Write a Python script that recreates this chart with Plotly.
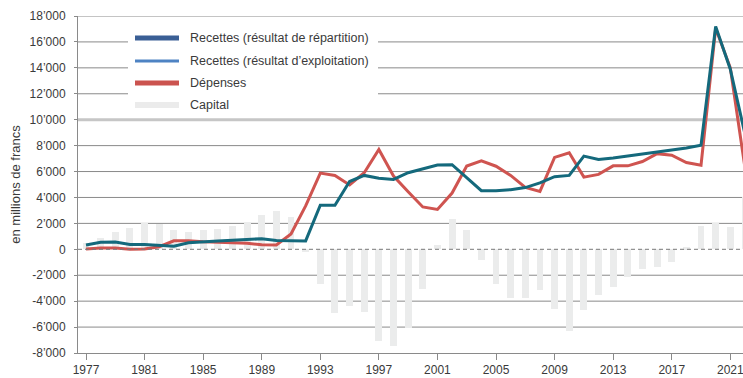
import plotly.graph_objects as go

# Annual series, in millions of francs
years = list(range(1977, 2023))

recettes_repartition = [
    330, 540, 560, 380, 380, 280, 230, 510, 590, 640,
    690, 740, 820, 680, 650, 650, 3400, 3400, 5230, 5700,
    5490, 5390, 5910, 6220, 6510, 6530, 5490, 4520, 4520, 4600,
    4760, 5120, 5600, 5700, 7190, 6930, 7050, 7200, 7380, 7510,
    7670, 7820, 8030, 17200, 13900, 8900,
]

depenses = [
    20, 100, 100, 0, 30, 200, 660, 660, 590, 540,
    540, 460, 360, 330, 1180, 3350, 5880, 5700, 4970, 5910,
    7700, 5650, 4440, 3270, 3080, 4340, 6430, 6820, 6410, 5700,
    4780, 4470, 7090, 7450, 5570, 5780, 6440, 6440, 6770, 7380,
    7260, 6690, 6490, 17050, 14000, 6300,
]

capital = [
    500, 850, 1330, 1640, 2000, 1950, 1490, 1340, 1490, 1570,
    1800, 2100, 2650, 2950, 2520, -200, -2650, -4890, -4350, -4810,
    -7050, -7440, -6100, -3090, 330, 2340, 1490, -830, -2680, -3760,
    -3760, -3140, -4580, -6300, -4680, -3530, -2910, -2110, -1520, -1340,
    -950, 150, 1800, 2000, 1700, 4000,
]

legend_labels = [
    "Recettes (résultat de répartition)",
    "Recettes (résultat d\u2019exploitation)",
    "Dépenses",
    "Capital",
]

y_tickvals = list(range(-8000, 18001, 2000))
y_ticktext = ["-8\u2019000", "-6\u2019000", "-4\u2019000", "-2\u2019000", "0",
              "2\u2019000", "4\u2019000", "6\u2019000", "8\u2019000", "10\u2019000",
              "12\u2019000", "14\u2019000", "16\u2019000", "18\u2019000"]
x_tickvals = list(range(1977, 2022, 4))

TEAL = "#14697c"
RED = "#cf5450"
BAR = "#ebecec"
GRID = "#8a8a8a"
TEXT = "#3a3a3a"
FONT = "Liberation Sans, Arial, sans-serif"

W, H = 743, 378
ML, MR, MT, MB = 78, 0, 16, 25


def px_x(px):
    return (px - ML) / (W - ML - MR)


def px_y(py):
    return (H - MB - py) / (H - MT - MB)


fig = go.Figure()

fig.add_trace(go.Bar(
    x=years, y=capital, width=0.47, marker=dict(color=BAR, line=dict(width=0)),
    name=legend_labels[3], showlegend=False, hoverinfo="x+y",
))
fig.add_trace(go.Scatter(
    x=years, y=depenses, mode="lines", line=dict(color=RED, width=3),
    name=legend_labels[2], showlegend=False,
))
fig.add_trace(go.Scatter(
    x=years, y=recettes_repartition, mode="lines", line=dict(color=TEAL, width=3),
    name=legend_labels[0], showlegend=False,
))

shapes = []
# horizontal gridlines, the 10'000 one emphasised, zero drawn dashed
for v in y_tickvals:
    if v in (0, -8000):
        continue
    if v == 10000:
        line = dict(color="#c6c6c6", width=3)
    else:
        line = dict(color=GRID, width=1)
    shapes.append(dict(type="line", xref="paper", yref="y", x0=0, x1=1,
                       y0=v, y1=v, line=line, layer="below"))
shapes.append(dict(type="line", xref="paper", yref="y", x0=0, x1=1, y0=0, y1=0,
                   line=dict(color="#7a7a7a", width=1, dash="4px,3px"), layer="above"))
# legend panel
shapes.append(dict(type="rect", xref="paper", yref="paper",
                   x0=px_x(128), x1=px_x(378), y0=px_y(112), y1=px_y(24),
                   fillcolor="white", line=dict(width=0), layer="above"))

swatches = [("#3a5f95", 5), ("#4e83c3", 3), ("#cb534f", 5), ("#ebebeb", 6)]
rows = [38, 61, 83, 105]
annotations = []
for (col, lw), row, label in zip(swatches, rows, legend_labels):
    shapes.append(dict(type="line", xref="paper", yref="paper",
                       x0=px_x(135), x1=px_x(179), y0=px_y(row), y1=px_y(row),
                       line=dict(color=col, width=lw), layer="above"))
    annotations.append(dict(xref="paper", yref="paper", x=px_x(188), y=px_y(row),
                            text=label, showarrow=False, xanchor="left",
                            yanchor="middle", font=dict(size=12.5, color=TEXT, family=FONT)))

fig.update_layout(
    width=W, height=H,
    margin=dict(l=ML, r=MR, t=MT, b=MB, pad=0),
    paper_bgcolor="white", plot_bgcolor="white",
    showlegend=False,
    bargap=0,
    font=dict(family=FONT, size=12, color=TEXT),
    shapes=shapes,
    annotations=annotations,
    xaxis=dict(
        range=[1976.454, 2021.867],
        tickvals=x_tickvals, ticktext=[str(v) for v in x_tickvals],
        showgrid=False, zeroline=False,
        showline=True, linecolor=GRID, linewidth=1,
        ticks="outside", ticklen=6, tickcolor=GRID, tickwidth=1,
        ticklabeloverflow="allow",
        tickfont=dict(size=12, color=TEXT),
    ),
    yaxis=dict(
        range=[-8000, 18000],
        tickvals=y_tickvals, ticktext=y_ticktext,
        showgrid=False, zeroline=False,
        showline=True, linecolor=GRID, linewidth=1,
        ticks="outside", ticklen=3, tickcolor=GRID, tickwidth=1,
        ticklabelstandoff=6,
        tickfont=dict(size=12, color=TEXT),
        title=dict(text="en millions de francs", font=dict(size=13, color=TEXT), standoff=6),
    ),
)

fig.write_html("out.html")
